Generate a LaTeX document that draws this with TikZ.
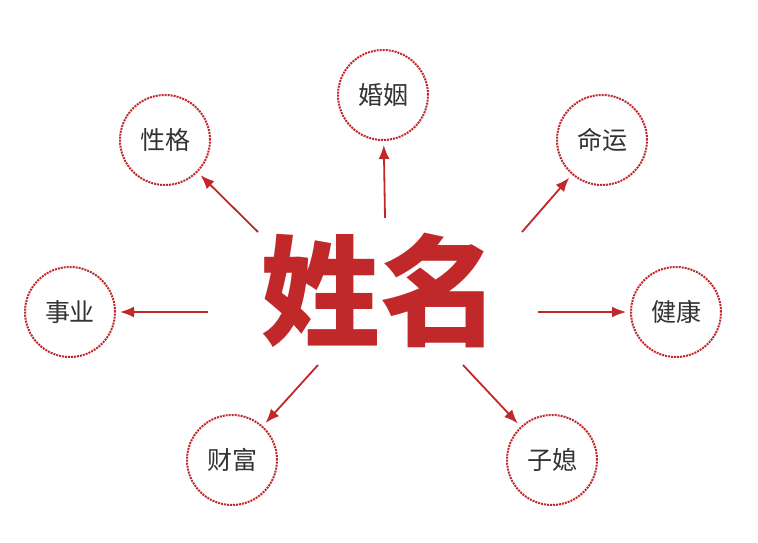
\documentclass[tikz,border=0pt]{standalone}
\usepackage{fontspec}
\usetikzlibrary{arrows.meta}
\newfontfamily\cjk{Noto Sans CJK SC}
\definecolor{rd}{HTML}{C0282A}
\begin{document}
\begin{tikzpicture}[x=1pt,y=-1pt,
  lbl/.style={circle,draw=rd,densely dotted,line width=2pt,minimum size=90pt,inner sep=0pt,font=\cjk\fontsize{25}{25}\selectfont,text=black!80},
  arr/.style={-{Latex[length=14pt,width=11pt]},draw=rd,line width=1.8pt,shorten >=4pt}]
\useasboundingbox (0,0) rectangle (758,543);
\fill[white] (0,0) rectangle (758,543);
\node[text=rd,font=\cjk\bfseries\fontsize{120}{120}\selectfont] (c) at (380,290) {姓名};
\node[lbl] (hy) at (383,95) {婚姻};
\node[lbl] (xg) at (165,140) {性格};
\node[lbl] (my) at (602,140) {命运};
\node[lbl] (sy) at (70,312) {事业};
\node[lbl] (jk) at (676,312) {健康};
\node[lbl] (cf) at (232,460) {财富};
\node[lbl] (zx) at (552,460) {子媳};
\coordinate (a1) at (258,232); \coordinate (a2) at (385,218);
\coordinate (a3) at (522,232); \coordinate (a4) at (208,312);
\coordinate (a5) at (538,312); \coordinate (a6) at (318,365);
\coordinate (a7) at (463,365);
\draw[arr] (a1) -- (xg);
\draw[arr] (a2) -- (hy);
\draw[arr] (a3) -- (my);
\draw[arr] (a4) -- (sy);
\draw[arr] (a5) -- (jk);
\draw[arr] (a6) -- (cf);
\draw[arr] (a7) -- (zx);
\end{tikzpicture}
\end{document}
